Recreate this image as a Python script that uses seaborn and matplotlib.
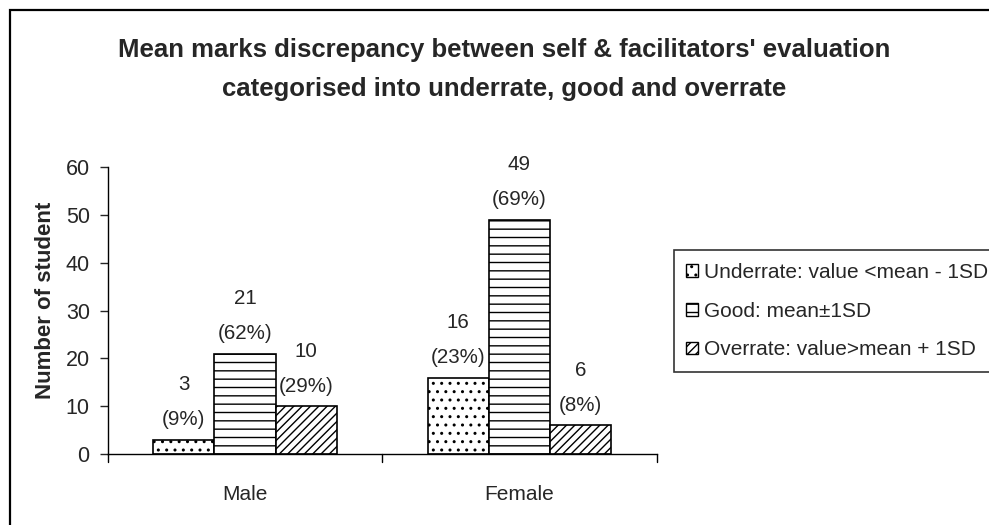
import matplotlib
matplotlib.use("Agg")
import matplotlib.pyplot as plt
import seaborn as sns
import pandas as pd
from matplotlib.patches import Rectangle, Patch

sns.set_theme(style="white")
plt.rcParams['font.family'] = ['Liberation Sans', 'DejaVu Sans']
plt.rcParams['hatch.linewidth'] = 1.0

genders = ["Male", "Female"]
categories = ["Underrate: value <mean - 1SD", "Good: mean\u00b11SD", "Overrate: value>mean + 1SD"]
male_counts = [3, 21, 10]
female_counts = [16, 49, 6]
male_pct = [9, 62, 29]
female_pct = [23, 69, 8]
hatches = ["..", "--", "////"]

rows = []
for g, counts, pcts in [("Male", male_counts, male_pct), ("Female", female_counts, female_pct)]:
    for c, v, p in zip(categories, counts, pcts):
        rows.append({"Gender": g, "Category": c, "Count": v, "Pct": p})
df = pd.DataFrame(rows)

fig = plt.figure(figsize=(9.89, 5.25), dpi=100)
ax = fig.add_axes([0.109, 0.135, 0.555, 0.547])

sns.barplot(data=df, x="Gender", y="Count", hue="Category", order=genders,
            hue_order=categories, palette=["white"] * 3, edgecolor="black",
            linewidth=1.2, width=0.67, ax=ax, legend=False, saturation=1)

for ci, container in enumerate(ax.containers):
    for bi, bar in enumerate(container):
        bar.set_hatch(hatches[ci])
        sub = df[(df.Category == categories[ci]) & (df.Gender == genders[bi])].iloc[0]
        ax.text(bar.get_x() + bar.get_width() / 2, bar.get_height() + 2.2,
                f"{sub.Count}\n({sub.Pct}%)", ha="center", va="bottom",
                fontsize=14.8, linespacing=2.05)

ax.set_ylim(0, 60)
ax.set_xlim(-0.5, 1.5)
ax.set_yticks(range(0, 61, 10))
ax.tick_params(axis="y", labelsize=15.5, length=6, width=1, direction="out", left=True, pad=7)
ax.tick_params(axis="x", labelsize=15, length=0, pad=22)
for x in [-0.5, 0.5, 1.5]:
    ax.plot([x, x], [0, -1.6], color="black", lw=1, clip_on=False)
for s in ["top", "right"]:
    ax.spines[s].set_visible(False)
for s in ["left", "bottom"]:
    ax.spines[s].set_color("black")
    ax.spines[s].set_linewidth(1)
ax.set_xlabel("")
ax.set_ylabel("Number of student", fontsize=16, fontweight="bold")
ax.yaxis.set_label_coords(-0.094, 0.535)

handles = [Patch(facecolor="white", edgecolor="black", hatch=h, label=c)
           for h, c in zip(hatches, categories)]
leg = fig.legend(handles=handles, loc="upper left", bbox_to_anchor=(0.681, 0.524),
                 fontsize=15, frameon=True, fancybox=False, edgecolor="black",
                 handlelength=0.55, handleheight=0.55, handletextpad=0.3,
                 labelspacing=0.95, borderpad=0.62, borderaxespad=0)
leg.get_frame().set_linewidth(1.2)

fig.text(0.5095, 0.868, "Mean marks discrepancy between self & facilitators' evaluation\ncategorised into underrate, good and overrate",
         ha="center", va="center", fontsize=18.5, fontweight="bold", linespacing=1.76)

fig.patches.append(Rectangle((10 / 989, -0.2), 1.2, 1.2 - 10 / 525, transform=fig.transFigure,
                             fill=False, edgecolor="black", linewidth=1.6))

fig.savefig("out.png", dpi=100)
